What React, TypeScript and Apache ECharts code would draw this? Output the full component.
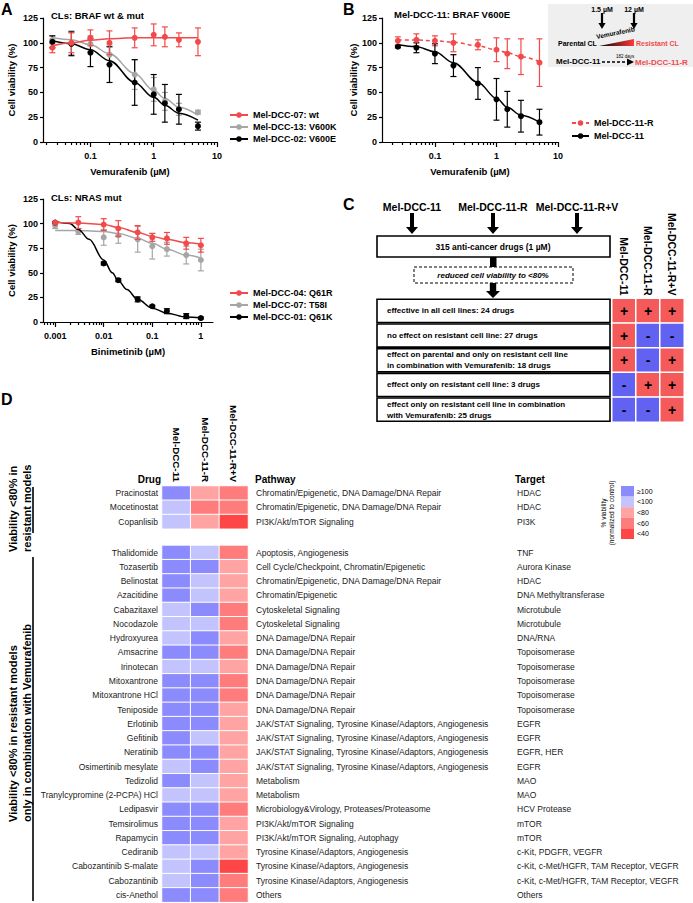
import React, { useEffect, useRef } from 'react';
import * as echarts from 'echarts';

const FONT = '"Liberation Sans", Arial, Helvetica, sans-serif';
const RED = '#f24a4a';
const GRAY = '#a6a6a6';
const BLACK = '#000000';

// ---------- Panel A (top): Vemurafenib ----------
const vemConc = [0.025, 0.05, 0.1, 0.2, 0.5, 1, 1.5, 2.5, 5];
const a1Names = ['Mel-DCC-07: wt', 'Mel-DCC-13: V600K', 'Mel-DCC-02: V600E'];
const a1RedMean = [95, 100, 105, 100, 105, 108, 106, 103, 101];
const a1RedSd = [5, 10, 8, 12, 10, 11, 10, 7, 14];
const a1GrayMean = [103, 100, 99, 88, 68, 53, 41, 33, 30];
const a1GraySd = [4, 12, 8, 10, 15, 12, 9, 6, 2];
const a1BlackMean = [101, 99, 90, 78, 60, 48, 39, 33, 16];
const a1BlackSd = [6, 12, 14, 18, 23, 20, 19, 15, 4];
const a1RedFit = [97, 100, 102.5, 104, 105, 105, 105, 105, 105];
const a1GrayFit = [105, 103, 98, 89, 69, 52, 44, 35, 27];
const a1BlackFit = [102, 99, 93, 82, 60, 45, 37, 29, 22];

// ---------- Panel A (bottom): Binimetinib ----------
const binConc = [0.001, 0.003, 0.01, 0.02, 0.05, 0.1, 0.2, 0.5, 1];
const binConcBlack = [0.001, 0.01, 0.02, 0.05, 0.1, 0.2, 0.5, 1];
const a2Names = ['Mel-DCC-04: Q61R', 'Mel-DCC-07: T58I', 'Mel-DCC-01: Q61K'];
const a2RedMean = [101, 101, 99, 95, 91, 86, 85, 80, 78];
const a2RedSd = [1, 6, 6, 8, 7, 4, 6, 6, 7];
const a2GrayMean = [98, 92, 86, 88, 84, 77, 74, 68, 63];
const a2GraySd = [3, 3, 8, 8, 13, 13, 7, 9, 11];
const a2BlackMean = [101, 59.5, 42.5, 23, 16, 11, 6, 4];
const a2BlackSd = [1, 1.5, 1.5, 2.5, 1, 2.5, 2.5, 1];
const a2RedFit = [101, 100.5, 99, 96, 91, 87, 84, 80.5, 79];
const a2GrayFit = [93, 93, 92, 90, 85, 80, 74, 68, 65];
const a2BlackFitConc = [0.001, 0.002, 0.003, 0.005, 0.01, 0.015, 0.02, 0.03, 0.05, 0.1, 0.2, 0.5, 1];
const a2BlackFit = [102, 100, 94, 84, 63, 50, 42, 33, 23, 14, 9, 5, 4];

// ---------- Panel B ----------
const bNames = ['Mel-DCC-11-R', 'Mel-DCC-11'];
const bRedMean = [102, 103, 102, 100, 98, 93, 89, 86, 80];
const bRedSd = [4, 6, 5, 9, 5, 12, 15, 18, 24];
const bBlackMean = [96, 95, 89, 77, 59, 43, 33, 26, 20];
const bBlackSd = [1, 5, 10, 11, 16, 21, 18, 16, 13];
const bRedFit = [103, 102.8, 102, 100.5, 97, 93, 90, 86, 81];
const bBlackFit = [98, 96, 91, 80, 60, 44, 35, 27, 20];

// ---------- Panel C ----------
const cCols = ['Mel-DCC-11', 'Mel-DCC-11-R', 'Mel-DCC-11-R+V'];
const cRows = [
  'effective in all cell lines: 24 drugs',
  'no effect on resistant cell line: 27 drugs',
  'effect on parental and only on resistant cell line\nin combination with Vemurafenib: 18 drugs',
  'effect only on resistant cell line: 3 drugs',
  'effect only on resistant cell line in combination\nwith Vemurafenib: 25 drugs',
];
const cParental = ['+', '+', '+', '-', '-'];
const cResistant = ['+', '-', '-', '+', '-'];
const cResistantV = ['+', '-', '+', '+', '+'];

// ---------- Panel D ----------
const levels = ['≥100', '<100', '<80', '<60', '<40'];
const heatColors = ['#8b8bfd', '#c3c3fd', '#ffa3a3', '#ff7c7c', '#ff4646'];
const dCols = ['Mel-DCC-11', 'Mel-DCC-11-R', 'Mel-DCC-11-R+V'];

const g1Drugs = ['Pracinostat', 'Mocetinostat', 'Copanlisib'];
const g1Pathways = [
  'Chromatin/Epigenetic, DNA Damage/DNA Repair',
  'Chromatin/Epigenetic, DNA Damage/DNA Repair',
  'PI3K/Akt/mTOR Signaling',
];
const g1Targets = ['HDAC', 'HDAC', 'PI3K'];
const g1Parental = ['≥100', '<100', '<100'];
const g1Resistant = ['<80', '<60', '<80'];
const g1ResistantV = ['<60', '<60', '<40'];

const g2Drugs = [
  'Thalidomide', 'Tozasertib', 'Belinostat', 'Azacitidine', 'Cabazitaxel', 'Nocodazole',
  'Hydroxyurea', 'Amsacrine', 'Irinotecan', 'Mitoxantrone', 'Mitoxantrone HCl', 'Teniposide',
  'Erlotinib', 'Gefitinib', 'Neratinib', 'Osimertinib mesylate', 'Tedizolid',
  'Tranylcypromine (2-PCPA) HCl', 'Ledipasvir', 'Temsirolimus', 'Rapamycin', 'Cediranib',
  'Cabozantinib S-malate', 'Cabozantinib', 'cis-Anethol',
];
const g2Pathways = [
  'Apoptosis, Angiogenesis',
  'Cell Cycle/Checkpoint, Chromatin/Epigenetic',
  'Chromatin/Epigenetic, DNA Damage/DNA Repair',
  'Chromatin/Epigenetic',
  'Cytoskeletal Signaling',
  'Cytoskeletal Signaling',
  'DNA Damage/DNA Repair',
  'DNA Damage/DNA Repair',
  'DNA Damage/DNA Repair',
  'DNA Damage/DNA Repair',
  'DNA Damage/DNA Repair',
  'DNA Damage/DNA Repair',
  'JAK/STAT Signaling, Tyrosine Kinase/Adaptors, Angiogenesis',
  'JAK/STAT Signaling, Tyrosine Kinase/Adaptors, Angiogenesis',
  'JAK/STAT Signaling, Tyrosine Kinase/Adaptors, Angiogenesis',
  'JAK/STAT Signaling, Tyrosine Kinase/Adaptors, Angiogenesis',
  'Metabolism',
  'Metabolism',
  'Microbiology&Virology, Proteases/Proteasome',
  'PI3K/Akt/mTOR Signaling',
  'PI3K/Akt/mTOR Signaling, Autophagy',
  'Tyrosine Kinase/Adaptors, Angiogenesis',
  'Tyrosine Kinase/Adaptors, Angiogenesis',
  'Tyrosine Kinase/Adaptors, Angiogenesis',
  'Others',
];
const g2Targets = [
  'TNF', 'Aurora Kinase', 'HDAC', 'DNA Methyltransferase', 'Microtubule', 'Microtubule',
  'DNA/RNA', 'Topoisomerase', 'Topoisomerase', 'Topoisomerase', 'Topoisomerase', 'Topoisomerase',
  'EGFR', 'EGFR', 'EGFR, HER', 'EGFR', 'MAO', 'MAO', 'HCV Protease', 'mTOR', 'mTOR',
  'c-Kit, PDGFR, VEGFR', 'c-Kit, c-Met/HGFR, TAM Receptor, VEGFR',
  'c-Kit, c-Met/HGFR, TAM Receptor, VEGFR', 'Others',
];
const g2Parental = [
  '≥100', '≥100', '≥100', '≥100', '<100', '<100', '<100', '≥100', '<100', '≥100', '≥100', '≥100',
  '≥100', '≥100', '≥100', '<100', '≥100', '<100', '≥100', '≥100', '≥100', '<100', '<100', '<100', '≥100',
];
const g2Resistant = [
  '<100', '≥100', '<100', '<100', '≥100', '<100', '≥100', '≥100', '<100', '≥100', '≥100', '≥100',
  '≥100', '<100', '≥100', '≥100', '<100', '<100', '≥100', '≥100', '≥100', '<100', '≥100', '≥100', '≥100',
];
const g2ResistantV = [
  '<60', '<80', '<80', '<80', '<60', '<60', '<80', '<60', '<80', '<60', '<60', '<80',
  '<80', '<80', '<80', '<80', '<80', '<80', '<60', '<80', '<80', '<80', '<40', '<60', '<60',
];

// x-axis tick positions (concentrations, µM)
const aTopMajor = [0.1, 1, 10];
const aTopMinor = [0.02, 0.03, 0.04, 0.05, 0.06, 0.07, 0.08, 0.09, 0.2, 0.3, 0.4, 0.5, 0.6, 0.7, 0.8, 0.9, 2, 3, 4, 5, 6, 7, 8, 9];
const aBotMajor = [0.001, 0.01, 0.1, 1];
const aBotMinor = [0.0006, 0.0007, 0.0008, 0.0009, 0.002, 0.003, 0.004, 0.005, 0.006, 0.007, 0.008, 0.009,
  0.02, 0.03, 0.04, 0.05, 0.06, 0.07, 0.08, 0.09, 0.2, 0.3, 0.4, 0.5, 0.6, 0.7, 0.8, 0.9];

const lg = (c: number) => Math.log10(c);
const fmtConc = (v: number) => {
  const c = Math.pow(10, v);
  return c >= 1 ? String(Math.round(c)) : String(Number(c.toPrecision(1)));
};

const lineS = { color: '#000', width: 1.2 };
const boldLbl = { color: '#000', fontWeight: 'bold' as const, fontFamily: FONT };

function logXAxes(grid: number, min: number, max: number, majors: number[], minors: number[], name: string) {
  return [
    {
      type: 'value', gridIndex: grid, position: 'bottom', min, max, name,
      nameLocation: 'middle', nameGap: 24,
      nameTextStyle: { ...boldLbl, fontSize: 9.5 },
      axisLine: { show: true, onZero: false, lineStyle: lineS },
      axisTick: { show: true, customValues: majors.map(lg), length: 5, lineStyle: lineS },
      axisLabel: { customValues: majors.map(lg), formatter: fmtConc, margin: 9, ...boldLbl, fontSize: 9 },
      splitLine: { show: false },
    },
    {
      type: 'value', gridIndex: grid, position: 'bottom', min, max,
      axisLine: { show: false, onZero: false },
      axisTick: { show: true, customValues: minors.map(lg), length: 3, lineStyle: lineS },
      axisLabel: { show: false },
      splitLine: { show: false },
    },
  ];
}

function viabilityY(grid: number, nameGap: number) {
  return {
    type: 'value', gridIndex: grid, min: 0, max: 125, interval: 25,
    name: 'Cell viability (%)', nameLocation: 'middle', nameGap,
    nameTextStyle: { ...boldLbl, fontSize: 9.5 },
    axisLine: { show: true, onZero: false, lineStyle: lineS },
    axisTick: { show: true, length: 3, lineStyle: lineS },
    axisLabel: { margin: 5, ...boldLbl, fontSize: 9 },
    splitLine: { show: false },
  };
}

function txt(text: string, x: number, y: number, o: any = {}) {
  return {
    type: 'text', x, y, rotation: o.rot || 0, z: 100,
    style: {
      text, fill: o.color || '#000', fontSize: o.size || 9, fontWeight: o.weight || 'normal',
      fontStyle: o.italic ? 'italic' : 'normal', fontFamily: FONT,
      align: o.align || 'left', verticalAlign: o.valign || 'middle', lineHeight: o.lh,
    },
  };
}

function arrowDown(cx: number, y0: number, y1: number, hs: number, hh: number, headH: number) {
  return {
    type: 'polygon', z: 100,
    shape: {
      points: [[cx - hs, y0], [cx + hs, y0], [cx + hs, y1 - headH], [cx + hh, y1 - headH], [cx, y1],
        [cx - hh, y1 - headH], [cx - hs, y1 - headH]],
    },
    style: { fill: '#000' },
  };
}

function buildOption() {
  const series: any[] = [];

  const addDose = (o: any) => {
    const z = o.z || 2;
    series.push({
      type: 'custom', xAxisIndex: o.xi, yAxisIndex: o.yi, z, silent: true,
      encode: { x: 0, y: [1, 2] },
      data: o.conc.map((c: number, i: number) => [lg(c), o.mean[i] - o.sd[i], o.mean[i] + o.sd[i]]),
      renderItem: (_p: any, api: any) => {
        const lo = api.coord([api.value(0), api.value(1)]);
        const hi = api.coord([api.value(0), api.value(2)]);
        const w = 3;
        const st = { stroke: o.color, lineWidth: 1.2 };
        return {
          type: 'group',
          children: [
            { type: 'line', shape: { x1: lo[0], y1: lo[1], x2: hi[0], y2: hi[1] }, style: st },
            { type: 'line', shape: { x1: hi[0] - w, y1: hi[1], x2: hi[0] + w, y2: hi[1] }, style: st },
            { type: 'line', shape: { x1: lo[0] - w, y1: lo[1], x2: lo[0] + w, y2: lo[1] }, style: st },
          ],
        };
      },
    });
    series.push({
      type: 'line', name: o.name, xAxisIndex: o.xi, yAxisIndex: o.yi, z: z + 1,
      smooth: 0.35, smoothMonotone: 'x', symbol: 'circle', showSymbol: false, silent: true,
      lineStyle: { color: o.color, width: 1.5, type: o.dashed ? [4, 3] : 'solid' },
      itemStyle: { color: o.color },
      data: o.fitConc.map((c: number, i: number) => [lg(c), o.fit[i]]),
    });
    series.push({
      type: 'scatter', xAxisIndex: o.xi, yAxisIndex: o.yi, z: z + 2, silent: true,
      symbol: 'circle', symbolSize: 6, itemStyle: { color: o.color, opacity: 1 },
      data: o.conc.map((c: number, i: number) => [lg(c), o.mean[i]]),
    });
  };

  addDose({ name: a1Names[0], conc: vemConc, mean: a1RedMean, sd: a1RedSd, fitConc: vemConc, fit: a1RedFit, color: RED, xi: 0, yi: 0, z: 6 });
  addDose({ name: a1Names[1], conc: vemConc, mean: a1GrayMean, sd: a1GraySd, fitConc: vemConc, fit: a1GrayFit, color: GRAY, xi: 0, yi: 0, z: 2 });
  addDose({ name: a1Names[2], conc: vemConc, mean: a1BlackMean, sd: a1BlackSd, fitConc: vemConc, fit: a1BlackFit, color: BLACK, xi: 0, yi: 0, z: 4 });
  addDose({ name: a2Names[0], conc: binConc, mean: a2RedMean, sd: a2RedSd, fitConc: binConc, fit: a2RedFit, color: RED, xi: 2, yi: 1, z: 6 });
  addDose({ name: a2Names[1], conc: binConc, mean: a2GrayMean, sd: a2GraySd, fitConc: binConc, fit: a2GrayFit, color: GRAY, xi: 2, yi: 1, z: 2 });
  addDose({ name: a2Names[2], conc: binConcBlack, mean: a2BlackMean, sd: a2BlackSd, fitConc: a2BlackFitConc, fit: a2BlackFit, color: BLACK, xi: 2, yi: 1, z: 4 });
  addDose({ name: bNames[0], conc: vemConc, mean: bRedMean, sd: bRedSd, fitConc: vemConc, fit: bRedFit, color: RED, xi: 4, yi: 2, z: 2, dashed: true });
  addDose({ name: bNames[1], conc: vemConc, mean: bBlackMean, sd: bBlackSd, fitConc: vemConc, fit: bBlackFit, color: BLACK, xi: 4, yi: 2, z: 4 });

  // Panel C matrix
  const cCells: number[][] = [];
  [cParental, cResistant, cResistantV].forEach((col, ci) => {
    col.forEach((s, ri) => { cCells.push([ci, ri, s === '+' ? 1 : 0]); });
  });
  const cIdx = series.length;
  series.push({
    type: 'heatmap', xAxisIndex: 6, yAxisIndex: 3, data: cCells, silent: true,
    itemStyle: { borderColor: '#fff', borderWidth: 1.5 },
    label: {
      show: true, formatter: (p: any) => (p.value[2] ? '+' : '-'),
      fontSize: 14, fontWeight: 'bold', color: '#000', fontFamily: FONT,
    },
  });

  // Panel D heatmaps
  const lvl = (s: string) => levels.indexOf(s);
  const buildHeat = (cols: string[][]) => {
    const d: number[][] = [];
    cols.forEach((col, ci) => col.forEach((s, ri) => d.push([ci, ri, lvl(s)])));
    return d;
  };
  const dIdx1 = series.length;
  series.push({
    type: 'heatmap', xAxisIndex: 7, yAxisIndex: 4, silent: true,
    data: buildHeat([g1Parental, g1Resistant, g1ResistantV]),
    itemStyle: { borderColor: '#fff', borderWidth: 1 },
  });
  const dIdx2 = series.length;
  series.push({
    type: 'heatmap', xAxisIndex: 8, yAxisIndex: 7, silent: true,
    data: buildHeat([g2Parental, g2Resistant, g2ResistantV]),
    itemStyle: { borderColor: '#fff', borderWidth: 1 },
  });

  const grid = [
    { left: 43, top: 18, width: 174, height: 124 },
    { left: 43, top: 199, width: 170, height: 123 },
    { left: 382, top: 18, width: 176, height: 124 },
    { left: 612, top: 298.5, width: 72, height: 123.5 },
    { left: 162, top: 486, width: 86, height: 42.8 },
    { left: 162, top: 545.4, width: 86, height: 356.75 },
  ];

  const hideAxis = { axisLine: { show: false }, axisTick: { show: false }, splitLine: { show: false } };

  const xAxis: any[] = [
    ...logXAxes(0, -1.75, 1, aTopMajor, aTopMinor, 'Vemurafenib (µM)'),
    ...logXAxes(1, -3.25, 0.25, aBotMajor, aBotMinor, 'Binimetinib (µM)'),
    ...logXAxes(2, -1.86, 1, aTopMajor, aTopMinor, 'Vemurafenib (µM)'),
    {
      type: 'category', gridIndex: 3, position: 'top', data: cCols, ...hideAxis,
      axisLabel: { rotate: 90, interval: 0, margin: 3, ...boldLbl, fontSize: 10.5 },
    },
    {
      type: 'category', gridIndex: 4, position: 'top', data: dCols, ...hideAxis,
      axisLabel: { rotate: 90, interval: 0, margin: 4, ...boldLbl, fontSize: 9.8 },
    },
    { type: 'category', gridIndex: 5, position: 'top', data: dCols, show: false },
  ];

  const drugLabel = { interval: 0, fontSize: 8.5, color: '#1a1a1a', fontFamily: FONT };
  const yAxis: any[] = [
    viabilityY(0, 27),
    viabilityY(1, 27),
    viabilityY(2, 22),
    { type: 'category', gridIndex: 3, data: cRows.map((_, i) => String(i)), inverse: true, show: false },
    { type: 'category', gridIndex: 4, position: 'left', data: g1Drugs, inverse: true, ...hideAxis, axisLabel: { ...drugLabel, margin: 4 } },
    { type: 'category', gridIndex: 4, position: 'right', offset: 0, data: g1Drugs, inverse: true, ...hideAxis, axisLabel: { ...drugLabel, margin: 8, formatter: (_v: string, i: number) => g1Pathways[i] } },
    { type: 'category', gridIndex: 4, position: 'right', offset: 261, data: g1Drugs, inverse: true, ...hideAxis, axisLabel: { ...drugLabel, margin: 8, formatter: (_v: string, i: number) => g1Targets[i] } },
    { type: 'category', gridIndex: 5, position: 'left', data: g2Drugs, inverse: true, ...hideAxis, axisLabel: { ...drugLabel, margin: 4 } },
    { type: 'category', gridIndex: 5, position: 'right', offset: 0, data: g2Drugs, inverse: true, ...hideAxis, axisLabel: { ...drugLabel, margin: 8, formatter: (_v: string, i: number) => g2Pathways[i] } },
    { type: 'category', gridIndex: 5, position: 'right', offset: 261, data: g2Drugs, inverse: true, ...hideAxis, axisLabel: { ...drugLabel, margin: 8, formatter: (_v: string, i: number) => g2Targets[i] } },
  ];

  const legendText = { ...boldLbl, fontSize: 9, lineHeight: 9 };
  const legend = [
    { data: a1Names, left: 229, top: 110.5, orient: 'vertical', padding: 0, itemWidth: 18, itemHeight: 7, itemGap: 3, textStyle: legendText, selectedMode: false },
    { data: a2Names, left: 229, top: 288.5, orient: 'vertical', padding: 0, itemWidth: 18, itemHeight: 7, itemGap: 3, textStyle: legendText, selectedMode: false },
    { data: bNames, left: 571, top: 118.5, orient: 'vertical', padding: 0, itemWidth: 17, itemHeight: 7, itemGap: 4, textStyle: legendText, selectedMode: false },
  ];

  const visualMap = [
    {
      type: 'piecewise', seriesIndex: [dIdx1, dIdx2], dimension: 2, inverse: true,
      pieces: levels.map((l, i) => ({ value: i, label: l, color: heatColors[i] })),
      orient: 'vertical', left: 621, top: 486, padding: 0, itemWidth: 13, itemHeight: 10.6, itemGap: 0,
      itemSymbol: 'rect', textGap: 3, align: 'left', selectedMode: false,
      textStyle: { fontSize: 7, color: '#000', fontFamily: FONT },
    },
    {
      type: 'piecewise', show: false, seriesIndex: [cIdx], dimension: 2,
      pieces: [{ value: 1, color: '#f45a5a' }, { value: 0, color: '#6262f2' }],
    },
  ];

  const gradient = {
    type: 'linear', x: 0, y: 0, x2: 1, y2: 0,
    colorStops: [{ offset: 0, color: '#000' }, { offset: 1, color: '#ff3b3b' }],
  };

  const cTop = 298.5;
  const cPitch = 24.7;
  const cBoxes: any[] = [];
  cRows.forEach((r, i) => {
    const y = cTop + cPitch * i + 0.75;
    cBoxes.push({ type: 'rect', z: 90, shape: { x: 377, y, width: 233, height: cPitch - 1.5 }, style: { fill: '#fff', stroke: '#000', lineWidth: 1.6 } });
    cBoxes.push(txt(r, 387, y + (cPitch - 1.5) / 2, { size: 8, weight: 'bold', lh: 11 }));
  });

  const elements: any[] = [
    txt('A', 1, 9, { size: 16, weight: 'bold' }),
    txt('B', 343, 9, { size: 16, weight: 'bold' }),
    txt('C', 343, 204, { size: 16, weight: 'bold' }),
    txt('D', 1, 399, { size: 16, weight: 'bold' }),
    txt('CLs: BRAF wt & mut', 51, 15, { size: 9.5, weight: 'bold' }),
    txt('CLs: NRAS mut', 51, 197, { size: 9.5, weight: 'bold' }),
    txt('Mel-DCC-11: BRAF V600E', 394, 14, { size: 9.5, weight: 'bold' }),

    { type: 'rect', z: 90, shape: { x: 548, y: 4, width: 145, height: 63 }, style: { fill: '#efefef' } },
    txt('1.5 µM', 602, 9, { size: 7, weight: 'bold', align: 'center' }),
    txt('12 µM', 634, 9, { size: 7, weight: 'bold', align: 'center' }),
    arrowDown(602, 13, 29, 1.1, 3.6, 6),
    arrowDown(634, 13, 29, 1.1, 3.6, 6),
    txt('Parental CL', 558, 43, { size: 7, weight: 'bold' }),
    { type: 'polygon', z: 100, shape: { points: [[599, 46], [634, 46], [634, 39]] }, style: { fill: gradient } },
    txt('Vemurafenib', 597, 40, { size: 6.5, weight: 'bold', rot: 0.2, valign: 'bottom' }),
    txt('Resistant CL', 636, 43, { size: 7, weight: 'bold', color: RED }),
    txt('Mel-DCC-11', 556, 61, { size: 8, weight: 'bold' }),
    txt('182 days', 616, 56, { size: 4.5 }),
    { type: 'line', z: 100, shape: { x1: 602, y1: 62, x2: 628, y2: 62 }, style: { stroke: '#000', lineWidth: 1.6, lineDash: [3, 2] } },
    { type: 'polygon', z: 100, shape: { points: [[627, 58.5], [634, 62], [627, 65.5]] }, style: { fill: '#000' } },
    txt('Mel-DCC-11-R', 635, 62, { size: 8, weight: 'bold', color: RED }),

    txt('Mel-DCC-11', 412, 207, { size: 10.5, weight: 'bold', align: 'center' }),
    txt('Mel-DCC-11-R', 493, 207, { size: 10.5, weight: 'bold', align: 'center' }),
    txt('Mel-DCC-11-R+V', 577, 207, { size: 10.5, weight: 'bold', align: 'center' }),
    arrowDown(412, 213, 234, 2, 6, 7),
    arrowDown(493, 213, 234, 2, 6, 7),
    arrowDown(577, 213, 234, 2, 6, 7),
    { type: 'rect', z: 90, shape: { x: 377, y: 236, width: 233, height: 21 }, style: { fill: '#fff', stroke: '#000', lineWidth: 1.6 } },
    txt('315 anti-cancer drugs (1 µM)', 493, 246.5, { size: 8.5, weight: 'bold', align: 'center' }),
    { type: 'rect', z: 90, shape: { x: 490, y: 257, width: 6.5, height: 10 }, style: { fill: '#000' } },
    { type: 'rect', z: 90, shape: { x: 414, y: 267, width: 159, height: 16 }, style: { fill: '#fff', stroke: '#000', lineWidth: 1, lineDash: [3, 2] } },
    txt('reduced cell viability to <80%', 493, 275, { size: 8, weight: 'bold', italic: true, align: 'center' }),
    arrowDown(493, 283, 298, 3.2, 7, 7),
    ...cBoxes,

    txt('Drug', 161, 479, { size: 10, weight: 'bold', align: 'right' }),
    txt('Pathway', 255, 479, { size: 10, weight: 'bold' }),
    txt('Target', 515, 479, { size: 10, weight: 'bold' }),
    txt('Viability <80% in', 13, 552, { size: 11, weight: 'bold', rot: Math.PI / 2 }),
    txt('resistant models', 27, 552, { size: 11, weight: 'bold', rot: Math.PI / 2 }),
    { type: 'line', z: 100, shape: { x1: 33, y1: 487, x2: 33, y2: 533 }, style: { stroke: '#000', lineWidth: 1.6 } },
    txt('Viability <80% in resistant models', 13, 822, { size: 11, weight: 'bold', rot: Math.PI / 2 }),
    txt('only in combination with Vemurafenib', 27, 822, { size: 11, weight: 'bold', rot: Math.PI / 2 }),
    { type: 'line', z: 100, shape: { x1: 33, y1: 557, x2: 33, y2: 901 }, style: { stroke: '#000', lineWidth: 1.6 } },
    txt('% viability', 603, 513, { size: 6.5, rot: Math.PI / 2, align: 'center' }),
    txt('(normalized to control)', 611, 513, { size: 6.5, rot: Math.PI / 2, align: 'center' }),
  ];

  return {
    animation: false,
    backgroundColor: '#fff',
    textStyle: { fontFamily: FONT },
    grid, xAxis, yAxis, series, legend, visualMap,
    graphic: { elements },
  };
}

export default function App() {
  const ref = useRef<HTMLDivElement>(null);
  useEffect(() => {
    const chart = echarts.init(ref.current as HTMLDivElement, null, { renderer: 'svg' });
    chart.setOption(buildOption() as any);
    return () => chart.dispose();
  }, []);
  return (
    <div
      ref={ref}
      style={{ position: 'absolute', left: 0, top: 0, width: 693, height: 903, background: '#fff' }}
    />
  );
}
